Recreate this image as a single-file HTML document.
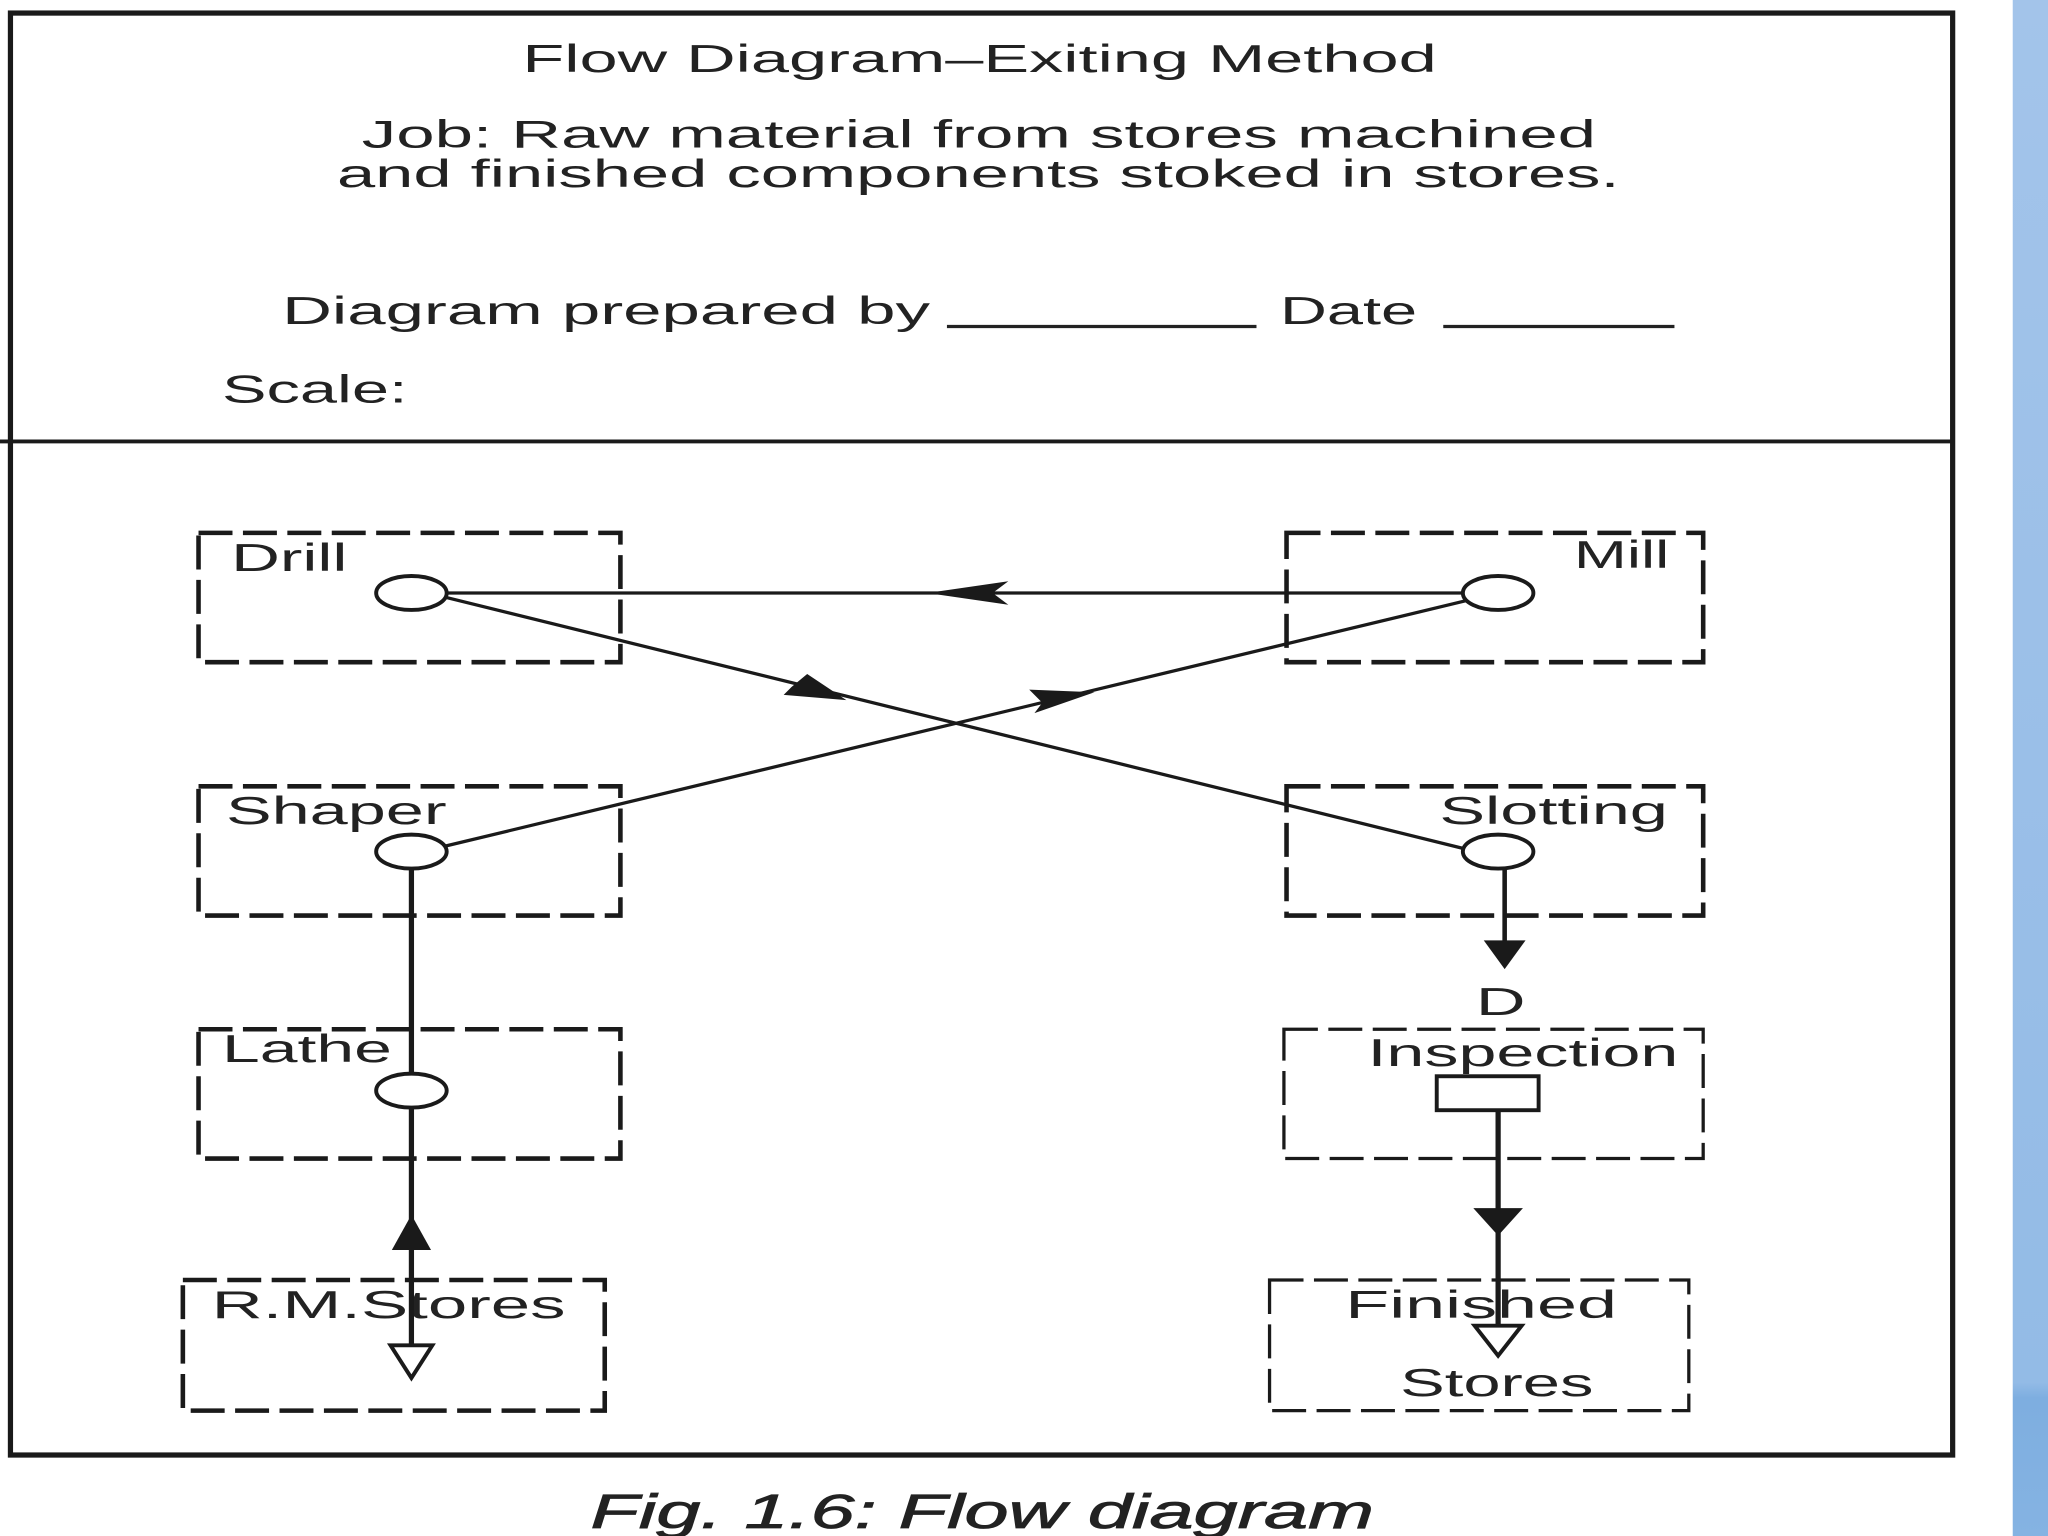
<!DOCTYPE html>
<html><head><style>html,body{margin:0;padding:0;background:#fff;width:2048px;height:1536px;overflow:hidden}</style></head>
<body>
<svg width="2048" height="1536" viewBox="0 0 1568 1176" preserveAspectRatio="none" xmlns="http://www.w3.org/2000/svg" font-family="Liberation Sans, sans-serif" fill="#222">
<defs><linearGradient id="bl" x1="0" y1="0" x2="0" y2="1"><stop offset="0" stop-color="#a3c4ea"/><stop offset="0.9" stop-color="#93bbe6"/><stop offset="0.91" stop-color="#7eaee0"/><stop offset="1" stop-color="#85b3e2"/></linearGradient></defs>
<rect x="1541" y="0" width="27" height="1176" fill="url(#bl)"/>
<rect x="8" y="10" width="1487" height="1104" fill="none" stroke="#1a1a1a" stroke-width="4"/>
<line x1="0" y1="338" x2="1495" y2="338" stroke="#1a1a1a" stroke-width="3"/>
<g font-size="30">
<text x="400" y="55" textLength="700" lengthAdjust="spacingAndGlyphs">Flow Diagram–Exiting Method</text>
<text x="277" y="113" textLength="945" lengthAdjust="spacingAndGlyphs">Job: Raw material from stores machined</text>
<text x="258" y="143" textLength="982" lengthAdjust="spacingAndGlyphs">and finished components stoked in stores.</text>
<text x="216" y="248" textLength="496" lengthAdjust="spacingAndGlyphs">Diagram prepared by</text>
<text x="980" y="248" textLength="105" lengthAdjust="spacingAndGlyphs">Date</text>
<text x="170" y="308" textLength="142" lengthAdjust="spacingAndGlyphs">Scale:</text>
</g>
<g stroke="#222" stroke-width="2.5">
<line x1="725" y1="250" x2="962" y2="250"/>
<line x1="1105" y1="250" x2="1282" y2="250"/>
</g>
<g fill="none" stroke="#1a1a1a" stroke-width="3.5" stroke-dasharray="26,8">
<rect x="152" y="408" width="323" height="99"/>
<rect x="985" y="408" width="319" height="99"/>
<rect x="152" y="602" width="323" height="99"/>
<rect x="985" y="602" width="319" height="99"/>
<rect x="152" y="788" width="323" height="99"/>
<rect x="140" y="980" width="323" height="100"/>
</g>
<g fill="none" stroke="#1a1a1a" stroke-width="2.5" stroke-dasharray="26,8">
<rect x="983" y="788" width="321" height="99"/>
<rect x="972" y="980" width="321" height="100"/>
</g>
<g font-size="30">
<text x="177" y="437" textLength="89" lengthAdjust="spacingAndGlyphs">Drill</text>
<text x="1205" y="435" textLength="73" lengthAdjust="spacingAndGlyphs">Mill</text>
<text x="173" y="631" textLength="169" lengthAdjust="spacingAndGlyphs">Shaper</text>
<text x="1102" y="631" textLength="175" lengthAdjust="spacingAndGlyphs">Slotting</text>
<text x="170" y="813" textLength="130" lengthAdjust="spacingAndGlyphs">Lathe</text>
<text x="1047" y="816" textLength="238" lengthAdjust="spacingAndGlyphs">Inspection</text>
<text x="1130" y="777" textLength="38" lengthAdjust="spacingAndGlyphs">D</text>
<text x="162" y="1009" textLength="271" lengthAdjust="spacingAndGlyphs">R.M.Stores</text>
<text x="1030" y="1009" textLength="208" lengthAdjust="spacingAndGlyphs">Finished</text>
<text x="1072" y="1069" textLength="148" lengthAdjust="spacingAndGlyphs">Stores</text>
</g>
<g stroke="#1a1a1a" stroke-width="2.5" fill="none">
<line x1="342" y1="454" x2="1120" y2="454"/>
<line x1="340" y1="457" x2="1122" y2="650"/>
<line x1="340" y1="648" x2="1122" y2="460"/>
<line x1="315" y1="665" x2="315" y2="1030" stroke-width="4"/>
<line x1="1152" y1="665" x2="1152" y2="722" stroke-width="3.5"/>
<line x1="1147" y1="850" x2="1147" y2="1018" stroke-width="4"/>
<rect x="1100" y="824" width="78" height="26" stroke-width="3"/>
<path d="M299,1030 L315,1055 L331,1030 Z" stroke-width="3" fill="#fff"/>
<path d="M1129,1015 L1147,1038 L1165,1015 Z" stroke-width="3" fill="#fff"/>
</g>
<g fill="#fff" stroke="#1a1a1a" stroke-width="3">
<ellipse cx="315" cy="454" rx="27" ry="13"/>
<ellipse cx="1147" cy="454" rx="27" ry="13"/>
<ellipse cx="315" cy="652" rx="27" ry="13"/>
<ellipse cx="1147" cy="652" rx="27" ry="13"/>
<ellipse cx="315" cy="835" rx="27" ry="13"/>
</g>
<g fill="#1a1a1a">
<path d="M710,454 L772,445 L760,454 L772,463 Z"/>
<path d="M648,536 L600,532 L606,526 L618,516 Z"/>
<path d="M838,530 L792,546 L798,538 L788,528 Z"/>
<path d="M300,957 L315,930 L330,957 Z"/>
<path d="M1136,720 L1152,742 L1168,720 Z"/>
<path d="M1128,925 L1147,946 L1166,925 Z"/>
</g>
<text x="452" y="1170" font-size="37" font-style="italic" textLength="600" lengthAdjust="spacingAndGlyphs" fill="#222" stroke="#222" stroke-width="0.6">Fig. 1.6: Flow diagram</text>
</svg>
</body></html>
